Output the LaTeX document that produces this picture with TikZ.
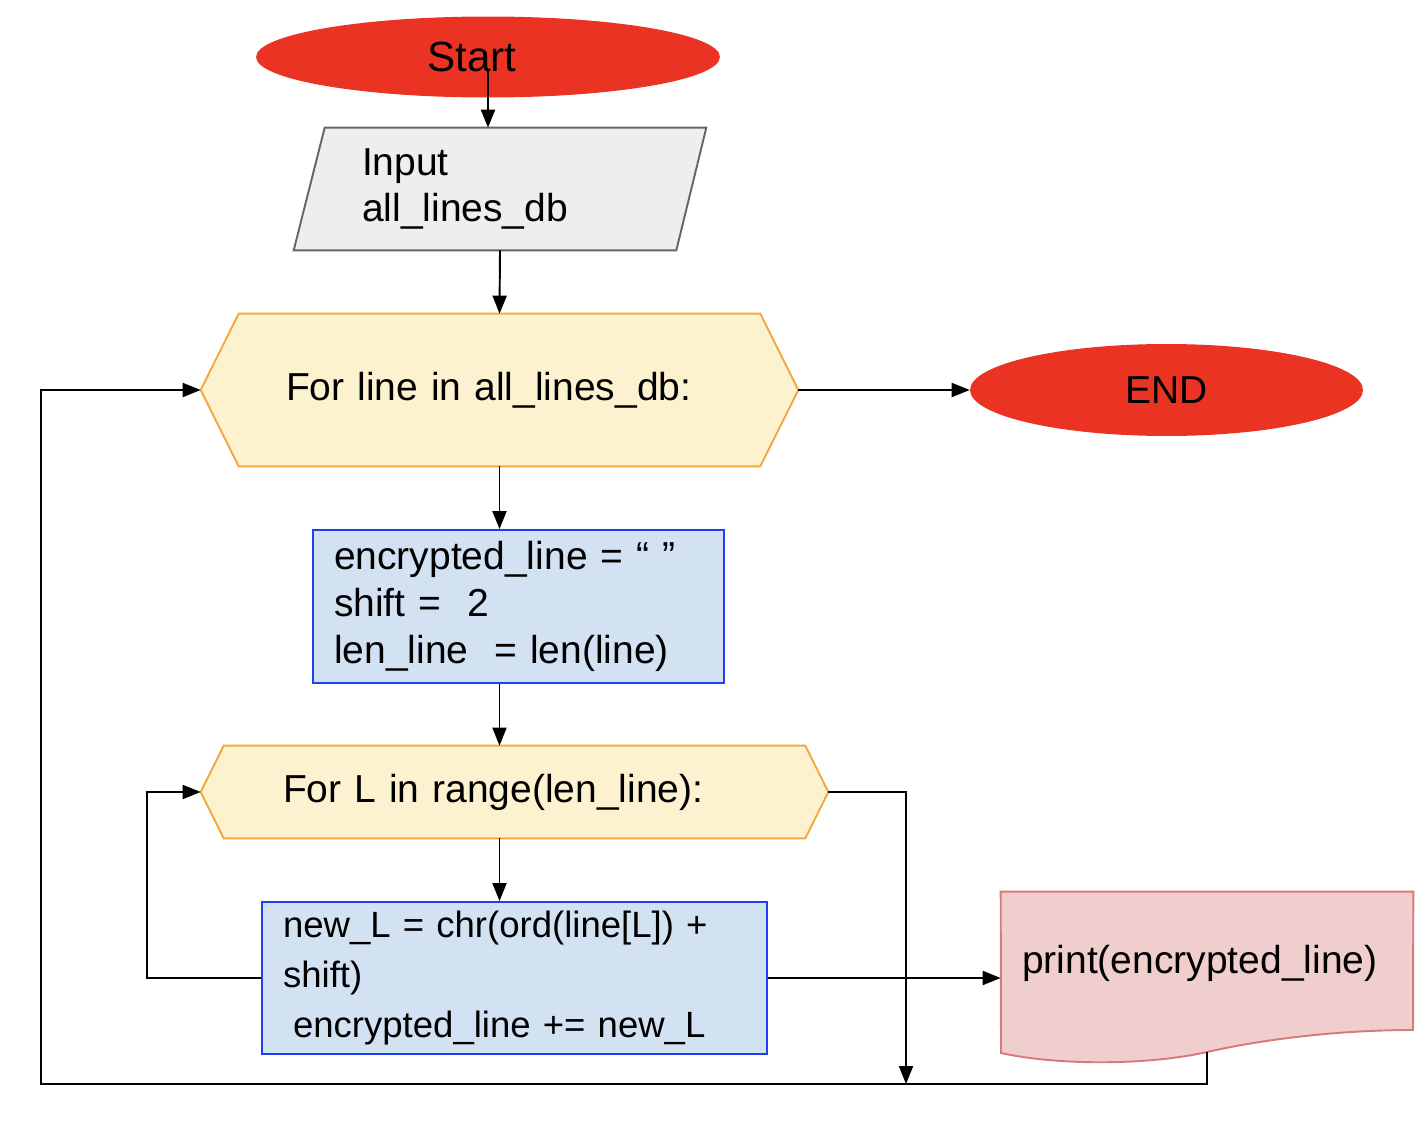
\documentclass[tikz,border=0pt]{standalone}
\usepackage{fontspec}
\setmainfont{Liberation Sans}
\usetikzlibrary{shapes.geometric,arrows.meta,backgrounds}

\definecolor{termred}{HTML}{EA3323}
\definecolor{loopfill}{HTML}{FDF2D0}
\definecolor{loopline}{HTML}{F4A83E}
\definecolor{procfill}{HTML}{D3E2F2}
\definecolor{procline}{HTML}{1F3FF5}
\definecolor{iofill}{HTML}{EEEEEE}
\definecolor{ioline}{HTML}{666666}
\definecolor{docfill}{HTML}{EFCECD}
\definecolor{docline}{HTML}{D87A7A}

\tikzset{
  terminal/.style={ellipse, fill=termred, inner sep=0pt},
  flowbox/.style={rectangle, inner ysep=0pt, align=left},
  process/.style={flowbox, draw=procline, fill=procfill, line width=1.1pt},
  arr/.style={-{Triangle[length=0.36cm,width=0.28cm]}, line width=1.1pt},
}

\begin{document}
\begin{tikzpicture}[x=0.02cm, y=-0.02cm]
    \useasboundingbox (0,0) rectangle (1426,1138);
    \fontsize{22.2}{26.7}\selectfont

    \node (start) at (488,57)[terminal, minimum width=9.28cm, minimum height=1.62cm, font=\fontsize{24}{28}\selectfont]{\hspace*{-0.64cm}Start};
    \node (input) at (500,189)[flowbox, minimum height=2.44cm, inner xsep=1.36cm, text width=5.52cm]{Input\\all\_lines\_db};
    \node (for1) at (499.5,390)[flowbox, minimum height=3.04cm, inner xsep=1.7cm, text width=8.54cm]{For line in all\_lines\_db:};
    \node (end) at (1166.5,390)[terminal, minimum width=7.86cm, minimum height=1.84cm]{END};
    \node (box1) at (518.5,606.5)[process, minimum height=3.06cm, inner xsep=0.42cm, text width=7.38cm]{encrypted\_line = “ ”\\shift = \ 2\\len\_line \ = len(line)};
    \node (for2) at (514.5,792)[flowbox, minimum height=1.84cm, inner xsep=1.64cm, text width=9.26cm]{For L in range(len\_line):};
    \node (box2) at (514.5,978)[process, minimum height=3.04cm, inner xsep=0.42cm, text width=9.26cm, font=\fontsize{20.8}{26.7}\selectfont]{new\_L = chr(ord(line[L]) +\\[1.7pt]shift)\\[1.7pt]\hspace*{0.2cm}encrypted\_line += new\_L};
    \node (prn) at (1207,963)[flowbox, minimum height=2.84cm, inner xsep=0.42cm, text width=7.4cm]{print(encrypted\_line)};

    \coordinate (prnb) at (1207,1052);
    \coordinate (join) at (906,1084);
    \coordinate (back) at (41,1084);

    \begin{scope}[on background layer]
      \filldraw[draw=ioline, fill=iofill, line width=1.1pt] (input.south west) -- ([xshift=0.62cm]input.north west) -- (input.north east) -- ([xshift=-0.6cm]input.south east) -- cycle;
      \filldraw[draw=loopline, fill=loopfill, line width=1.1pt] (for1.west) -- ([xshift=0.76cm]for1.north west) -- ([xshift=-0.76cm]for1.north east) -- (for1.east) -- ([xshift=-0.76cm]for1.south east) -- ([xshift=0.76cm]for1.south west) -- cycle;
      \filldraw[draw=loopline, fill=loopfill, line width=1.1pt] (for2.west) -- ([xshift=0.46cm]for2.north west) -- ([xshift=-0.46cm]for2.north east) -- (for2.east) -- ([xshift=-0.46cm]for2.south east) -- ([xshift=0.46cm]for2.south west) -- cycle;
      \filldraw[draw=docline, fill=docfill, line width=1.1pt] (prn.north west) -- (prn.north east) -- (1413,1030) .. controls (1340,1030) and (1264,1039) .. (prnb) .. controls (1150,1065) and (1060,1066) .. (1001,1053) -- cycle;
    \end{scope}

    \draw[arr] ([yshift=-0.26cm]start.center) -- (start |- input.north);
    \draw[arr] (input.south) -- (for1.north);
    \draw[arr] (for1.east) -- (end.west);
    \draw[arr] (for1.south) -- (for1.south |- box1.north);
    \draw[arr] (box1.south -| for1.south) -- (for2.north -| for1.south);
    \draw[arr] (for2.south -| for1.south) -- (box2.north -| for1.south);
    \draw[arr] (box2.west) -- ++(-114,0) |- (for2.west);
    \draw[arr] (box2.east) -- (box2.east -| prn.west);
    \draw[arr] (for2.east) -| (join);
    \draw[arr] (prnb) |- (back) |- (for1.west);
\end{tikzpicture}
\end{document}
